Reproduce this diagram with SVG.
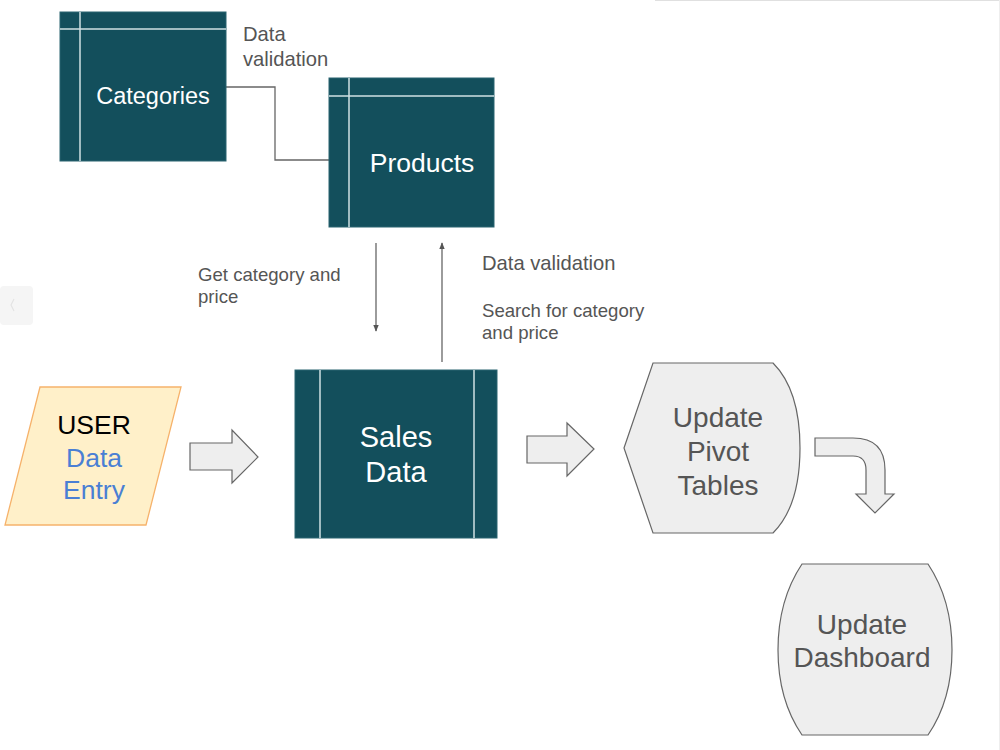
<svg xmlns="http://www.w3.org/2000/svg" width="1000" height="750" viewBox="0 0 1000 750">
<defs>
<style>
.tbl{fill:#134f5c;stroke:#2a6470;stroke-width:1}
.in{stroke:#d0e0e3;stroke-width:1.5;fill:none}
.wt{font-family:"Liberation Sans",Arial,sans-serif;fill:#ffffff;text-anchor:middle}
.lbl{font-family:"Liberation Sans",Arial,sans-serif;fill:#555555;font-size:18.6px}
.lbl.big{font-size:20.2px}
.gray{fill:#eeeeee;stroke:#666666;stroke-width:1.2}
.gt{font-family:"Liberation Sans",Arial,sans-serif;fill:#555555;text-anchor:middle;font-size:28px}
.conn{stroke:#666666;stroke-width:1.3;fill:none}
</style>
<marker id="ah" viewBox="0 0 10 10" refX="9" refY="5" markerWidth="7" markerHeight="7" orient="auto" markerUnits="userSpaceOnUse">
<path d="M0,1 L10,5 L0,9 z" fill="#555555"/>
</marker>
</defs>
<rect width="1000" height="750" fill="#ffffff"/>
<g id="chrome">
<line x1="655" y1="0.5" x2="1000" y2="0.5" stroke="#e0e0e0" stroke-width="1"/>
<line x1="999.5" y1="0" x2="999.5" y2="750" stroke="#eeeeee" stroke-width="1"/>
<rect x="0" y="286" width="33" height="39" rx="4" fill="#f5f5f5"/>
<path d="M14,299 L11,305 L14,311" stroke="#e4e4e4" stroke-width="1.2" fill="none"/>
</g>
<g id="connectors">
<polyline class="conn" points="226,87 275,87 275,160 329,160"/>
<line class="conn" x1="376" y1="243" x2="376" y2="331" marker-end="url(#ah)"/>
<line class="conn" x1="442" y1="362" x2="442" y2="243" marker-end="url(#ah)"/>
<path class="gray" d="M190,443 L232,443 L232,430 L258,457 L232,483 L232,470 L190,470 Z"/>
<path class="gray" d="M527,436 L567,436 L567,423 L594,449 L567,476 L567,463 L527,463 Z"/>
<path class="gray" d="M815,438 L853,438 Q885,438 885,470 L885,494 L894,494 L875,513 L856,494 L866,494 L866,470 Q866,456 853,456 L815,456 Z"/>
</g>
<g id="labels">
<text class="lbl big" x="243" y="41">Data</text>
<text class="lbl big" x="243" y="66">validation</text>
<text class="lbl" x="198" y="281">Get category and</text>
<text class="lbl" x="198" y="303">price</text>
<text class="lbl big" x="482" y="270">Data validation</text>
<text class="lbl" x="482" y="317">Search for category</text>
<text class="lbl" x="482" y="339">and price</text>
</g>
<g id="categories">
<rect class="tbl" x="60" y="12" width="166" height="149"/>
<line class="in" x1="60" y1="29" x2="226" y2="29"/>
<line class="in" x1="80" y1="12" x2="80" y2="161"/>
<text class="wt" x="153" y="104" font-size="23.5">Categories</text>
</g>
<g id="products">
<rect class="tbl" x="329" y="78" width="165" height="149"/>
<line class="in" x1="329" y1="96" x2="494" y2="96"/>
<line class="in" x1="349" y1="78" x2="349" y2="227"/>
<text class="wt" x="422" y="172" font-size="26.5">Products</text>
</g>
<g id="sales-data">
<rect class="tbl" x="295" y="370" width="202" height="168"/>
<line class="in" x1="320" y1="370" x2="320" y2="538"/>
<line class="in" x1="474" y1="370" x2="474" y2="538"/>
<text class="wt" x="396" y="447" font-size="29">Sales</text>
<text class="wt" x="396" y="482" font-size="29">Data</text>
</g>
<g id="user-entry">
<polygon points="40,387 181,387 146,525 5,525" fill="#fff0c9" stroke="#f6b26b" stroke-width="1.3"/>
<text x="94" y="434" font-family="Liberation Sans,Arial,sans-serif" font-size="26.5" fill="#000000" text-anchor="middle">USER</text>
<text x="94" y="467" font-family="Liberation Sans,Arial,sans-serif" font-size="26.5" fill="#4a7fd4" text-anchor="middle">Data</text>
<text x="94" y="499" font-family="Liberation Sans,Arial,sans-serif" font-size="26.5" fill="#4a7fd4" text-anchor="middle">Entry</text>
</g>
<g id="pivot">
<path class="gray" d="M624,448 L653,363 L773,363 Q800,390 800,448 Q800,506 773,533 L653,533 Z"/>
<text class="gt" x="718" y="427">Update</text>
<text class="gt" x="718" y="461">Pivot</text>
<text class="gt" x="718" y="495">Tables</text>
</g>
<g id="dashboard">
<path class="gray" d="M802,564 L928,564 Q952,600 952,650 Q952,700 928,735 L802,735 Q778,700 778,650 Q778,600 802,564 Z"/>
<text class="gt" x="862" y="634">Update</text>
<text class="gt" x="862" y="667">Dashboard</text>
</g>
</svg>
